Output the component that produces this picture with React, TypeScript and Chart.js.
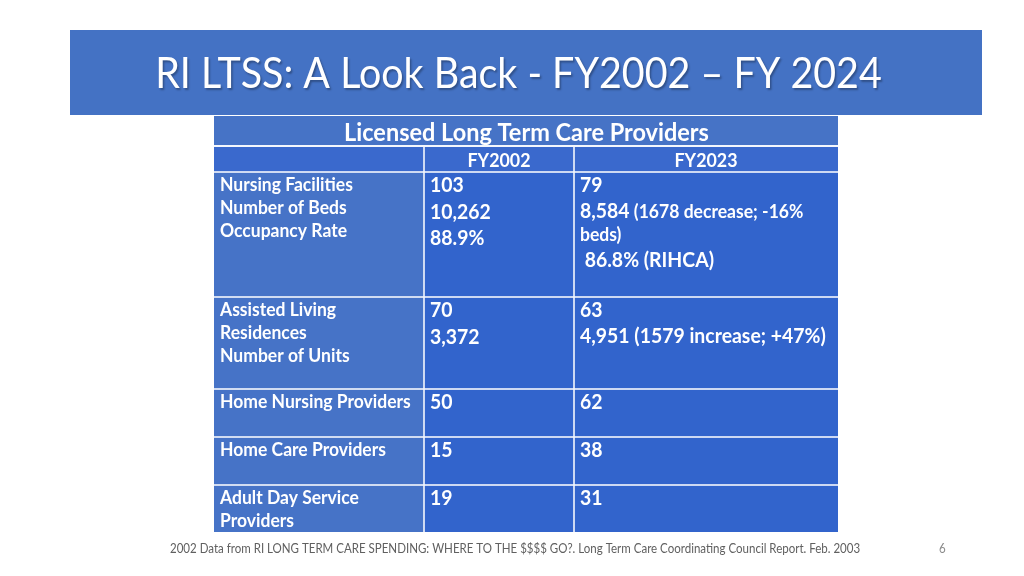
import { useEffect, useRef } from "react";
import { Chart, registerables } from "chart.js";

Chart.register(...registerables);

// ---------- data ----------
const slideTitle = "RI LTSS: A Look Back - FY2002 – FY 2024";
const tableTitle = "Licensed Long Term Care Providers";
const columnHeaders = ["", "FY2002", "FY2023"];
const categories: string[][] = [
  ["Nursing Facilities", "Number of Beds", "Occupancy Rate"],
  ["Assisted Living", "Residences", "Number of Units"],
  ["Home Nursing Providers"],
  ["Home Care Providers"],
  ["Adult Day Service", "Providers"],
];
const fy2002: string[][] = [
  ["103", "10,262", "88.9%"],
  ["70", "3,372"],
  ["50"],
  ["15"],
  ["19"],
];
type Seg = { t: string; small?: boolean };
const fy2023: Seg[][][] = [
  [
    [{ t: "79" }],
    [{ t: "8,584" }, { t: " (1678 decrease; -16%", small: true }],
    [{ t: "beds)", small: true }],
    [{ t: " 86.8% (RIHCA)" }],
  ],
  [[{ t: "63" }], [{ t: "4,951 (1579 increase; +47%)" }]],
  [[{ t: "62" }]],
  [[{ t: "38" }]],
  [[{ t: "31" }]],
];
const footnote =
  "2002 Data from RI LONG TERM CARE SPENDING: WHERE TO THE $$$$ GO?. Long Term Care Coordinating Council Report. Feb. 2003";
const pageNumber = "6";

// ---------- layout (slide units) ----------
const banner = { x0: 70, x1: 982, y0: 30, y1: 115 };
const colX = [214, 424, 574, 838];
const titleRowY = [116, 145];
const headRowY = [147, 172];
const rowY = [172, 297, 389, 437, 485, 532];
const FAMILY = "Lato";
const CAP = 0.72;
const STRETCH = 1.08;

function fit(ctx: CanvasRenderingContext2D, text: string, weight: string, target: number) {
  ctx.font = `${weight} 100px ${FAMILY}`;
  const w = ctx.measureText(text).width;
  return (100 * target) / w;
}

function stretchText(ctx: CanvasRenderingContext2D, text: string, x: number, base: number, k: number) {
  ctx.save();
  ctx.translate(x, base);
  ctx.scale(1, k);
  ctx.fillText(text, 0, 0);
  ctx.restore();
}

const tablePlugin = {
  id: "slideTable",
  afterDraw(chart: any) {
    const ctx: CanvasRenderingContext2D = chart.ctx;
    const sx = chart.scales.x;
    const sy = chart.scales.y;
    const X = (v: number) => sx.getPixelForValue(v);
    const Y = (v: number) => sy.getPixelForValue(v);
    const rect = (x0: number, y0: number, x1: number, y1: number, c: string) => {
      ctx.fillStyle = c;
      ctx.fillRect(X(x0), Y(y0), X(x1) - X(x0), Y(y1) - Y(y0));
    };
    ctx.save();

    // banner + title
    rect(banner.x0, banner.y0, banner.x1, banner.y1, "#4472C4");
    const tSize = fit(ctx, slideTitle, "400", 727);
    const tK = 1.1;
    ctx.font = `400 ${tSize}px ${FAMILY}`;
    ctx.textAlign = "center";
    ctx.textBaseline = "alphabetic";
    ctx.shadowColor = "rgba(0,0,0,0.3)";
    ctx.shadowOffsetX = 1.5;
    ctx.shadowOffsetY = 1.5;
    ctx.shadowBlur = 2;
    ctx.fillStyle = "#ffffff";
    stretchText(ctx, slideTitle, X(518.5), Y(72.5 + (tSize * CAP * tK) / 2), tK);
    ctx.shadowColor = "transparent";
    ctx.shadowBlur = 0;
    ctx.shadowOffsetX = 0;
    ctx.shadowOffsetY = 0;

    // table background (grid lines)
    rect(colX[0], titleRowY[0], colX[3], rowY[rowY.length - 1], "#f4f7fd");
    rect(colX[0], titleRowY[0], colX[3], titleRowY[1], "#4673C6");
    const g = 0.8;
    for (let c = 0; c < 3; c++) {
      const x0 = colX[c] + (c === 0 ? 0 : g);
      const x1 = colX[c + 1] - (c === 2 ? 0 : g);
      rect(x0, headRowY[0], x1, headRowY[1] - g, "#3A69CD");
      for (let r = 0; r < rowY.length - 1; r++) {
        const y0 = rowY[r] + g;
        const y1 = rowY[r + 1] - (r === rowY.length - 2 ? 0 : g);
        rect(x0, y0, x1, y1, c === 0 ? "#4673C7" : "#3264CC");
      }
    }

    ctx.fillStyle = "#ffffff";
    const K = STRETCH;
    // table title
    const hSize = fit(ctx, tableTitle, "700", 365);
    ctx.font = `700 ${hSize}px ${FAMILY}`;
    ctx.textAlign = "center";
    stretchText(ctx, tableTitle, X(526.5), Y(132 + (hSize * CAP * K) / 2), K);

    // column headers
    const fySize = fit(ctx, "FY2002", "700", 63);
    ctx.font = `700 ${fySize}px ${FAMILY}`;
    for (let c = 1; c < 3; c++) {
      stretchText(ctx, columnHeaders[c], X((colX[c] + colX[c + 1]) / 2), Y(160 + (fySize * CAP * K) / 2), K);
    }

    ctx.textAlign = "left";
    const lSize = fit(ctx, "Home Nursing Providers", "700", 191);
    const bSize = fit(ctx, "4,951 (1579 increase; +47%)", "700", 246);
    const sSize = fit(ctx, " (1678 decrease; -16%", "700", 174);

    for (let r = 0; r < categories.length; r++) {
      const top = rowY[r];
      // labels
      ctx.font = `700 ${lSize}px ${FAMILY}`;
      categories[r].forEach((line, i) => {
        const cy = top + 12 + i * 23;
        stretchText(ctx, line, X(colX[0] + 6), Y(cy + (lSize * CAP * K) / 2), K);
      });
      // FY2002
      ctx.font = `700 ${bSize}px ${FAMILY}`;
      fy2002[r].forEach((line, i) => {
        const cy = top + 12.5 + i * 26.5;
        stretchText(ctx, line, X(colX[1] + 6), Y(cy + (bSize * CAP * K) / 2), K);
      });
      // FY2023
      let cy = top + 12.5;
      fy2023[r].forEach((line, i) => {
        const hasBig = line.some((s) => !s.small);
        if (i > 0) cy += hasBig ? 25.5 : 24;
        const base = cy + ((hasBig ? bSize : sSize) * CAP * K) / 2;
        let x = X(colX[2] + 6);
        line.forEach((s) => {
          const sz = s.small ? sSize : bSize;
          ctx.font = `700 ${sz}px ${FAMILY}`;
          stretchText(ctx, s.t, x, Y(base), K);
          x += ctx.measureText(s.t).width;
        });
      });
    }

    // footnote
    const fSize = fit(ctx, footnote, "400", 691);
    ctx.font = `400 ${fSize}px ${FAMILY}`;
    ctx.fillStyle = "#606060";
    ctx.textAlign = "left";
    stretchText(ctx, footnote, X(170), Y(549 + (fSize * CAP * K) / 2), K);
    ctx.fillStyle = "#8a8a8a";
    stretchText(ctx, pageNumber, X(939), Y(549 + (fSize * CAP * K) / 2), K);

    ctx.restore();
  },
};

export default function App() {
  const ref = useRef<HTMLCanvasElement | null>(null);
  useEffect(() => {
    let chart: Chart | null = null;
    let cancelled = false;
    const make = () => {
      if (cancelled || !ref.current) return;
      chart = new Chart(ref.current, {
        type: "scatter",
        data: { datasets: [{ data: [], pointRadius: 0 }] },
        options: {
          animation: false,
          responsive: false,
          maintainAspectRatio: false,
          layout: { padding: 0 },
          plugins: { legend: { display: false }, tooltip: { enabled: false } },
          scales: {
            x: { type: "linear", min: 0, max: 1024, display: false },
            y: { type: "linear", min: 0, max: 576, reverse: true, display: false },
          },
        },
        plugins: [tablePlugin],
      });
    };
    const loads = [`400 20px ${FAMILY}`, `700 20px ${FAMILY}`].map((f) =>
      document.fonts ? document.fonts.load(f) : Promise.resolve()
    );
    Promise.all(loads).then(make, make);
    return () => {
      cancelled = true;
      if (chart) chart.destroy();
    };
  }, []);
  return (
    <div style={{ position: "fixed", left: 0, top: 0, width: 1024, height: 576, background: "#ffffff" }}>
      <canvas ref={ref} width={1024} height={576} style={{ width: 1024, height: 576, display: "block" }} />
    </div>
  );
}
